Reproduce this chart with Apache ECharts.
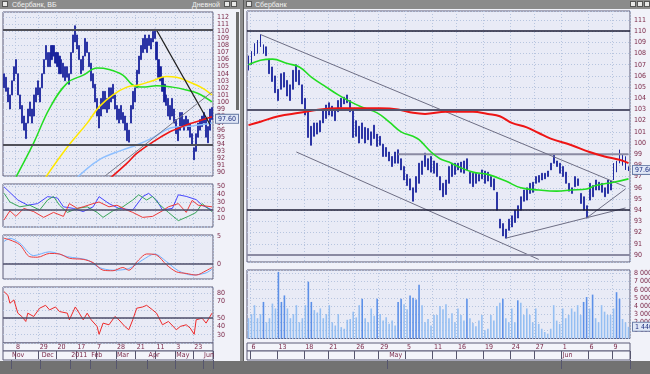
<!DOCTYPE html>
<html><head><meta charset="utf-8">
<script src="https://cdn.jsdelivr.net/npm/echarts@6/dist/echarts.min.js"></script>
<style>
html,body{margin:0;padding:0;background:#b2b2b2;}
#wrap{position:relative;width:650px;height:374px;overflow:hidden;background:#b2b2b2;font-family:'Liberation Sans',Arial,sans-serif;}
.a{position:absolute;}
.win{background:#f1f2f9;}
.title{background:#8b8b8b;color:#f2f2f2;font-size:7px;line-height:9px;height:9px;white-space:nowrap;}
.ico{position:absolute;top:1px;width:6px;height:6px;background:#e8e8e8;border:1px solid #555;box-sizing:border-box;}
#c{position:absolute;left:0;top:0;width:650px;height:374px;}
</style>
</head><body>
<div id="wrap">
  <div class="a win" style="left:0;top:0;width:240px;height:361px;"></div>
  <div class="a win" style="left:244px;top:0;width:406px;height:361px;"></div>
  <div class="a" style="left:240px;top:0;width:4px;height:361px;background:#8e8e8e;border-right:1px solid #5a5a5a;box-sizing:border-box;"></div>
  <div class="a title" style="left:0;top:0;width:240px;">
    <span class="ico" style="left:2px;"></span>
    <span class="a" style="left:12px;top:0;">Сбербанк, ВБ</span>
    <span class="a" style="left:192px;top:0;">Дневной</span>
    <span class="ico" style="left:224px;"></span><span class="ico" style="left:231px;"></span>
  </div>
  <div class="a title" style="left:244px;top:0;width:406px;">
    <span class="ico" style="left:2px;"></span>
    <span class="a" style="left:11px;top:0;">Сбербанк</span>
    <span class="ico" style="left:386px;"></span><span class="ico" style="left:393px;"></span><span class="ico" style="left:400px;"></span>
  </div>
  <div class="a" style="left:236px;top:12px;width:3px;height:98px;background:#6d6d6d;"></div>
  <div class="a" style="left:0;top:361px;width:650px;height:13px;background:#727272;"></div>
  <div id="c"></div>
</div>
<script>
// ---------- LEFT WINDOW (daily) ----------
const leftLow = [102,101.5,100,99,101,103,104,101,99,97,
 96,94.8,97,98,97,98,100,101,100,102,
 104,106,105,105,106,106.5,105.5,105,104,104,
 103.5,103,103.5,102.5,104,107,108.5,107.5,106,104,
 104.5,106.5,107,105,103,102,100,98,96.3,98,
 99,99,98.5,99,100,100.5,99,97.5,97,97.5,
 97,96,94.5,94.3,97,99,100,102,104,106,
 107,107.5,107,108,107.5,108.5,109,106,103.5,103,
 101.5,100,99.5,98,97.5,98,97,95.5,94.5,96,
 96.5,96,96.5,96,95,94,91.8,93,95,96,
 96.5,97,95,94.2,96,97.5];
const leftHigh = [104,103.5,102,101,103,105,106,104,101,99.5,
 98,97,99,100,99,101,102,103,102,104,
 106,108,107,107,108,108,107,107,106.5,106,
 105.5,105,105,104,107,109.5,110.8,109.5,108,106,
 106.5,109,108.5,107,105.5,104,102.5,100.5,99,100.5,
 101.5,101.5,100.5,102,102,102.5,101,99.5,99,99.5,
 98.5,98,97,96,99.5,101.5,102,104.5,106.5,108,
 109,109.5,109,109.5,109,110,110.3,108.5,106,105,
 103.5,102.5,101,100.5,99.5,100.5,99,97.5,96.5,98.5,
 98.5,97.5,98,97.5,97,95.5,93.5,95.5,97,97.5,
 98,98.5,97.5,96.5,99,99.2];
const leftMaGreen = [[5,88.8],[15,94.2],[23,99.1],[32,102.7],[40,103.8],[47,104.8],[53,104.6],[60,103.8],[65,102.4],[70,102.1],[77,102.3],[85,102.1],[92,101.7],[98,101.2],[105,100.0]];
const leftMaYellow = [[21,89.3],[32,93.6],[42,97],[48,99.3],[55,101],[62,102.1],[68,102.4],[75,103],[82,103.6],[87,103.5],[93,102.9],[100,102.0],[105,101.0]];
const leftMaBlue = [[37,89.3],[48,91.8],[60,93.2],[67,93.9],[75,94.9],[84,96.3],[90,96.5],[95,96.6],[105,97.0]];
const leftMaRed = [[54,89.3],[62,91.3],[67,92.7],[75,94.3],[84,95.8],[90,96.5],[95,97.0],[105,97.9]];
const leftTrendBlack = [[77,110.2],[104,96.8]];
const leftTrendGray = [[51,89.5],[105,101.4]];
const leftLevels = [110.2, 94];
const lastPrice = 97.60;
// indicators
const dmiBlue = [[0,49],[7,32.5],[12,26],[17,28],[22,36.7],[27,35],[30,24],[35,22],[40,18],[45,24],[48,36.7],[53,28],[58,22],[65,20],[70,36.7],[73,40.8],[77,32.5],[80,20],[85,22],[88,39],[92,37],[97,33],[100,26],[105,20]];
const dmiRed = [[0,7.5],[3,19],[6,12],[10,22],[15,18],[20,10.8],[25,17],[30,12],[33,28],[37,22],[40,24],[45,28],[48,30],[53,24],[57,26],[62,20],[65,17],[70,10.8],[75,12],[80,19],[83,24],[88,28],[92,17],[95,32],[98,26],[105,24]];
const dmiGreen = [[0,41],[3,30],[8,24],[13,26],[18,20],[22,32.5],[25,37],[28,26],[32,17],[37,22],[42,24],[47,17],[50,10.8],[55,19],[60,24],[65,32.5],[68,39],[72,32.5],[75,37],[78,28],[83,17],[88,6.7],[93,12],[97,17],[100,28],[105,18]];
const macdMain = [[0,4.7],[3,4.4],[8,3.5],[13,1.3],[17,1.2],[23,1.9],[28,1.8],[33,1.0],[40,0.8],[45,0.2],[50,-1.2],[55,-1.3],[60,-0.7],[63,-1.2],[68,0.7],[72,1.8],[77,1.6],[82,-0.2],[87,-1.5],[92,-1.8],[97,-2.1],[102,-1.3],[105,-0.7]];
const macdSignal = [[0,4.1],[3,4.7],[8,3.8],[15,1.5],[23,2.2],[32,1.3],[42,0.7],[48,-0.7],[55,-1.2],[63,-0.9],[70,0.7],[76,1.8],[82,0.4],[88,-1.3],[95,-2.1],[102,-1.7],[105,-1.0]];
const rsiLine = [[0,82],[2,77.5],[3,68],[5,72],[6,74],[7,56],[9,52],[11,46],[12,56],[15,52],[18,62],[21,65.5],[23,60],[26,63.5],[28,58],[32,56],[33,48],[36,63.5],[38,56],[40,48],[42,56],[44,48],[47,40],[48,30.5],[50,44],[53,42],[56,52],[58,48],[61,40],[63,36],[65,48],[67,62],[70,63.5],[72,65.5],[75,60],[77,56],[80,42],[83,46],[87,36],[89,40],[92,42],[94,38],[96,30.5],[97,48],[100,50],[102,44],[105,56]];
const leftDayIdx = [6,18,27,37,47,57,67,77,87,96];
const leftDayLbl = ["8","29","20","17","7","28","21","11","3","23"];
const leftMonIdx = [4,19,34,44,57,73,87,101];
const leftMonLbl = ["Nov","Dec","2011","Feb","Mar","Apr","May","Jun"];

// ---------- RIGHT WINDOW (intraday) ----------
const rightLow = [106.5,107,107.8,108,108.6,108,107.8,106.2,105.5,104.5,
 103.8,104.8,105,104.2,103.8,104.8,105.5,105.2,103.5,102.5,
 100.5,99.8,100.6,100.8,101,101.8,102.2,102.5,102.4,102,
 102.8,103.2,103.5,103.6,102.8,100.5,100.6,100,100.4,100,
 100.3,99.8,100.4,99.7,99.8,98.8,98.8,98.4,97.9,98.2,
 98.2,97.6,96.7,96.2,95.8,94.8,95.6,96.4,97.2,97.9,
 97.6,97.4,97.3,97,95.8,95.2,95.4,96.4,97,97.2,
 97.6,97.4,97.3,97.6,96.4,96.1,96.4,96.6,96.8,96.4,
 96.6,96.1,95.8,94,92.4,91.7,91.5,92.2,92.5,92.9,
 93.3,94,94.8,94.9,95.5,95.6,96.4,96.5,96.7,96.8,
 97,97.6,98.2,97.9,97.3,97,96.4,95.7,95.5,96.1,
 96.2,94.6,94,93.3,94.9,95.2,95.8,95.8,95.6,95.2,
 95.5,95.8,96.7,97.4,98.2,98,97.6,97.5];
const rightHigh = [107.8,108.2,108.9,109.2,109.7,108.8,108.6,107.5,106.8,106,
 104.8,106.2,106.3,105.6,105.2,106.5,107,106.5,105.2,104,
 103,101.5,101.8,101.8,102,103,103.4,103.6,103.3,103,
 103.8,104,104.1,104.3,103.8,103,102,101.5,101.8,101.4,
 101.3,101,101.6,100.8,100.6,99.9,99.6,99.2,98.8,99.2,
 99.4,98.6,97.9,97.2,96.8,96,97,98.2,98.4,99.1,
 98.6,98.8,98.4,98.2,97,96.4,96.7,97.9,98.2,98.2,
 98.2,98.3,98.4,98.6,97.4,97.3,97.3,97.2,97.6,97.5,
 97.4,97,96.8,95.6,93.2,92.8,92.3,93.2,93.5,94,
 94.4,95.2,95.8,96,96.4,96.5,97,97.1,97.3,97.3,
 97.5,98.2,99,98.4,98.2,97.9,97.4,96.4,96,97,
 96.8,95.5,95.2,94.4,96.4,96.2,96.7,96.5,96.4,96,
 96.7,96.6,98.2,98.4,99.4,99,98.8,97.9];
const rightMaGreen = [[0,107.0],[4,107.4],[8,107.5],[13,107.1],[17,106.8],[21,105.9],[26,105],[30,104.3],[34,103.7],[38,103.2],[43,102.7],[47,101.9],[51,101.0],[55,100.6],[57,100.3],[61,99.2],[64,98.6],[67,98.3],[70,97.9],[75,97.4],[80,97.2],[86,96.6],[91,96.0],[97,95.8],[103,95.7],[108,95.8],[113,95.9],[116,96.2],[122,96.5],[127,96.8]];
const rightMaRed = [[0,101.6],[4,101.9],[10,102.4],[17,102.7],[24,103.0],[30,103.1],[37,103.1],[44,103.1],[50,103.0],[55,102.7],[59,102.6],[66,102.8],[75,102.8],[80,102.6],[84,102.4],[88,101.8],[93,101.4],[97,100.9],[101,100.4],[108,99.8],[114,99.2],[119,98.8],[124,98.5],[127,98.2]];
const rightTrends = [
  [[4,109.7],[126,96.1]],
  [[16,99.2],[97,89.6]],
  [[86,91.5],[126,94.2]],
  [[113,93.3],[126,95.9]]
];
const rightLevelPartial = [[50,99],[127,99]];
const rightLevelsDark = [110, 94];
const rightLevelsMid = [103];
const rightLevelsLight = [90];
// volume in millions of shares
const rightVol = [2.5,3,4.1,2.5,3,4.5,2,2.5,4.3,3.7,
 8.2,4.5,5.3,3.7,2.5,3,4.1,2,2.5,4.1,
 7.0,4.5,3.5,3.2,3.7,2.5,3,4.1,2,1.6,
 3,1.4,1.2,2.3,2.4,3.3,2.6,4.1,4.9,2.5,
 2,3.7,2.8,4.9,3,2.2,2.6,1.8,2.2,1.6,
 4.5,4.9,4.2,3.6,5.3,5,4.8,6.6,4.1,2,
 2.4,1.6,2.9,2.9,4,3.6,4.2,2.5,3.1,2,
 3.7,2.9,2.2,4.9,2.5,1.9,1.5,2.2,2.9,1,
 1.2,2.9,2.2,4,4.4,4.9,2.5,2,3.7,2,
 4.7,4.4,2.9,3.7,2.9,2,3.7,1.8,1.2,0.8,
 0.6,1.2,4.1,2.2,1.8,3.7,2.5,2.9,3.7,3.3,
 4.1,2.9,4.5,5.1,3.7,5.4,2.5,2,4.1,3.3,
 2.9,2.9,3.7,5.7,4.9,2.4,2,1.44];
const lastVol = 1.44;
const rightDayIdx = [1,10,19,27,36,44,53,62,70,79,88,96,105,114,122];
const rightDayLbl = ["6","13","18","21","26","29","5","11","16","19","24","27","1","6","9"];
const rightMonIdx = [47,105];
const rightMonLbl = ["May","Jun"];

// ---------- build ----------
const FONT = "'Liberation Sans Narrow','DejaVu Sans Condensed','Liberation Sans',Arial,sans-serif";
const LBL = '#7a2848';
const GRIDC = '#b7c5df';
const FRAME = '#5c5c78';
const PLOTBG = '#e9ebf6';
const ROWBG = '#f3f4fa';

const leftCats = leftLow.map((_, i) => String(i));
const rightCats = rightLow.map((_, i) => String(i));
const leftBars = leftLow.map((lo, i) => [lo, leftHigh[i], lo, leftHigh[i]]);
const rightBars = rightLow.map((lo, i) => [lo, rightHigh[i], lo, rightHigh[i]]);

const gridDefs = [
  {left:3, top:12, width:210, height:164},
  {left:3, top:184, width:210, height:43},
  {left:3, top:235, width:210, height:44},
  {left:3, top:287, width:210, height:56},
  {left:3, top:343, width:210, height:8, backgroundColor:ROWBG},
  {left:3, top:351, width:210, height:9, backgroundColor:ROWBG},
  {left:247, top:11, width:383, height:251},
  {left:247, top:270, width:383, height:68.5},
  {left:247, top:343, width:383, height:8, backgroundColor:ROWBG},
  {left:247, top:351, width:383, height:9, backgroundColor:ROWBG}
].map(g => Object.assign({show:true, backgroundColor:PLOTBG, borderColor:FRAME, borderWidth:1,
  containLabel:false, outerBoundsMode:'none'}, g));

function panelX(gi, cats, idxs) {
  const s = new Set(idxs);
  return {gridIndex:gi, type:'category', data:cats, boundaryGap:true, min:0, max:cats.length-1,
    axisLine:{show:false}, axisTick:{show:false}, axisLabel:{show:false},
    splitLine:{show:true, interval:(i)=>s.has(i), lineStyle:{color:GRIDC, width:1, type:[1,2]}}};
}
function rowX(gi, cats, idxs, lbls) {
  const m = new Map(idxs.map((v, k) => [v, lbls[k]]));
  const f = (i) => m.has(i);
  return {gridIndex:gi, type:'category', data:cats, boundaryGap:true, position:'top', min:0, max:cats.length-1,
    axisLine:{show:false},
    axisTick:{show:true, inside:true, length:gridDefs[gi].height, interval:f, lineStyle:{color:'#55556e', width:1}},
    axisLabel:{show:true, inside:true, interval:f, margin:1, align:'left', fontSize:7, fontFamily:FONT, color:LBL,
      formatter:(v, i) => m.has(i) ? m.get(i) : ''},
    splitLine:{show:false}};
}
function valY(gi, min, max, step, hide, fmt) {
  return {gridIndex:gi, type:'value', position:'right', min, max, splitNumber:Math.round((max-min)/step),
    minInterval:step, maxInterval:step, scale:true,
    axisLine:{show:false}, axisTick:{show:false},
    axisLabel:{fontSize:7, fontFamily:FONT, color:LBL, margin:4, showMinLabel:false, showMaxLabel:false,
      formatter:(v) => {
        const r = Math.round(v / step) * step;
        if (Math.abs(r - v) > 1e-6) return '';
        if (hide && hide.indexOf(r) >= 0) return '';
        return fmt ? fmt(r) : String(r);
      }},
    splitLine:{show:true, lineStyle:{color:GRIDC, width:1, type:[1,2]}}};
}
const hiddenY = (gi) => ({gridIndex:gi, type:'value', show:false, min:0, max:1});
const volFmt = (v) => String(Math.round(v * 1e6)).replace(/\B(?=(\d{3})+(?!\d))/g, ' ');

const xAxis = [
  panelX(0, leftCats, leftDayIdx), panelX(1, leftCats, leftDayIdx), panelX(2, leftCats, leftDayIdx), panelX(3, leftCats, leftDayIdx),
  rowX(4, leftCats, leftDayIdx, leftDayLbl), rowX(5, leftCats, leftMonIdx, leftMonLbl),
  panelX(6, rightCats, rightDayIdx), panelX(7, rightCats, rightDayIdx),
  rowX(8, rightCats, rightDayIdx, rightDayLbl), rowX(9, rightCats, rightMonIdx, rightMonLbl)
];
const yAxis = [
  valY(0, 89.5, 112.75, 1),
  valY(1, -1.25, 52.5, 10, [0]),
  valY(2, -2.83, 5.31, 5),
  valY(3, 20, 87.6, 10, [20, 60]),
  hiddenY(4), hiddenY(5),
  valY(6, 89.37, 111.8, 1),
  valY(7, 0, 8.43, 1, null, volFmt),
  hiddenY(8), hiddenY(9)
];

const ln = (g, data, color, width, smooth) => ({type:'line', xAxisIndex:g, yAxisIndex:g, data, symbol:'none',
  smooth: smooth || false, lineStyle:{color, width}, silent:true, z:3});
const hl = (v, color, width) => ({yAxis:v, lineStyle:{color, width, type:'solid'}, label:{show:false}});
const priceLabel = (v, txt) => ({yAxis:v, lineStyle:{color:'rgba(0,0,0,0)', width:1}, label:{show:true, position:'end', distance:3,
  formatter:txt, fontSize:7, fontFamily:FONT, color:'#1d2f80', backgroundColor:'#e0e7f6',
  borderColor:'#6c7fa8', borderWidth:1, padding:[1,2,0,2]}});
const mk = (data) => ({symbol:['none','none'], silent:true, animation:false, label:{show:false}, data});
const candle = (g, data, w, bw, col, marks) => ({type:'candlestick', xAxisIndex:g, yAxisIndex:g, data, barWidth:w,
  clip:false, itemStyle:{color:col, color0:col, borderColor:col, borderColor0:col, borderWidth:bw}, silent:true, z:2,
  markLine: mk(marks)});

const series = [
  candle(0, leftBars, 1.6, 0.8, '#17219c', [
    hl(leftLevels[0], '#505058', 2), hl(leftLevels[1], '#505058', 2),
    priceLabel(lastPrice, lastPrice.toFixed(2))]),
  ln(0, leftMaGreen, '#22dd22', 1.5, 0.4),
  ln(0, leftMaYellow, '#ffe800', 1.5, 0.4),
  ln(0, leftMaBlue, '#8fc0ff', 1.5, 0.4),
  ln(0, leftMaRed, '#ee1515', 1.6, 0.4),
  ln(0, leftTrendBlack, '#1e1e1e', 1.3),
  ln(0, leftTrendGray, '#7a7a88', 1),
  Object.assign(ln(1, dmiBlue, '#4646ff', 1), {markLine: mk([hl(20, '#4c4c68', 1.5)])}),
  ln(1, dmiGreen, '#3aa65a', 1),
  ln(1, dmiRed, '#ee3a3a', 1),
  Object.assign(ln(2, macdSignal, '#6fb0ff', 1, 0.3), {markLine: mk([hl(0, '#4c4c68', 1.5)])}),
  ln(2, macdMain, '#ee3a3a', 1, 0.3),
  Object.assign(ln(3, rsiLine, '#ee2a2a', 1), {markLine: mk([hl(50, '#4c4c68', 1.5)])}),
  candle(6, rightBars, 1.4, 0.8, '#17219c', [
    hl(rightLevelsDark[0], '#1c1c34', 1.5), hl(rightLevelsDark[1], '#1c1c34', 1.5),
    hl(rightLevelsMid[0], '#56566e', 2), hl(rightLevelsLight[0], '#8a8aa2', 2),
    priceLabel(lastPrice, lastPrice.toFixed(2))]),
  ln(6, rightLevelPartial, '#8a8aa2', 2),
  ...rightTrends.map(t => ln(6, t, '#6e6e84', 1)),
  ln(6, rightMaGreen, '#22dd22', 1.6, 0.4),
  ln(6, rightMaRed, '#ee1515', 2, 0.4),
  {type:'bar', xAxisIndex:7, yAxisIndex:7, data:rightVol, barWidth:1.6, silent:true, clip:false,
    itemStyle:{color:(p) => p.value >= 4.5 ? '#5c90e8' : '#94bef2'},
    markLine: mk([priceLabel(lastVol, volFmt(lastVol))])}
];

const chart = echarts.init(document.getElementById('c'), null, {renderer:'canvas'});
chart.setOption({
  animation:false,
  backgroundColor:'transparent',
  grid: gridDefs,
  xAxis, yAxis, series
});
</script>
</body></html>
